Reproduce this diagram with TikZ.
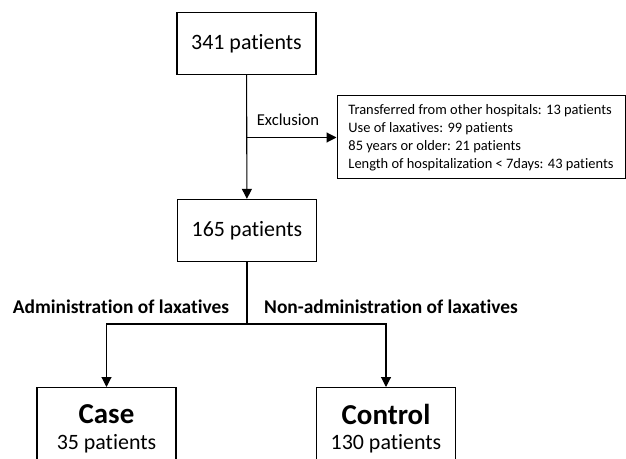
\documentclass[tikz,border=0pt]{standalone}
\usepackage{fontspec}
\setmainfont{Carlito}[Ligatures=NoCommon]
\usetikzlibrary{arrows.meta}
\tikzset{
  box/.style={draw, line width=1.3bp, minimum width=139bp, minimum height=62bp, font=\fontsize{22}{26}\selectfont},
  flow/.style={line width=1.1bp, -{Triangle[length=10bp,width=10bp]}},
  branchlabel/.style={font=\bfseries\fontsize{19.5}{22}\selectfont},
}
\begin{document}
\begin{tikzpicture}[x=1bp,y=-1bp]
  \useasboundingbox (0,0) rectangle (626,459);
  \clip (0,0) rectangle (626,459);
  \node[box] (all) at (246.5,43.5) {341 patients};
  \node[box] (incl) at (247,230.5) {165 patients};
  \node[draw, line width=1bp, minimum width=288bp, minimum height=83bp, align=left, inner sep=0pt,
        font=\fontsize{14.5}{18}\selectfont] (excl) at (481,137.5)
        {Transferred from other hospitals: 13 patients\\Use of laxatives: 99 patients\\
         85 years or older: 21 patients\\Length of hospitalization < 7days: 43 patients};
  \node[box, anchor=north, minimum height=82bp, align=center] (case) at (106.5,387)
        {{\bfseries\fontsize{29}{34}\selectfont Case}\\35 patients};
  \node[box, anchor=north, minimum height=82bp, align=center] (control) at (386,387)
        {{\bfseries\fontsize{29}{34}\selectfont Control}\\130 patients};
  % connectors
  \coordinate (cut) at (all.south |- excl.west);
  \coordinate (split) at (247,324);
  \draw[flow] (all) -- (incl);
  \draw[flow] (cut) -- (excl.west);
  \node[font=\fontsize{16.7}{20}\selectfont] (exlab) at (288,120) {Exclusion};
  \draw[line width=1.1bp] (incl) -- (split);
  \draw[flow] (split) -| (case.north);
  \draw[flow] (split) -| (control.north);
  \node[branchlabel] (caselab) at (121,307) {Administration of laxatives};
  \node[branchlabel] (controllab) at (391,307) {Non-administration of laxatives};
\end{tikzpicture}
\end{document}
